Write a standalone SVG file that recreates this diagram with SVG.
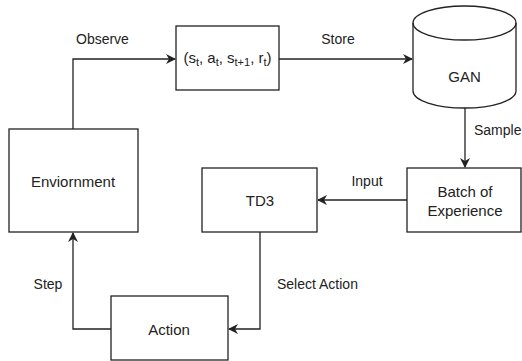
<svg xmlns="http://www.w3.org/2000/svg" width="522" height="361" viewBox="0 0 522 361">
<defs>
<style>
.n{fill:#fff;stroke:#222;stroke-width:1.3}
.e{fill:none;stroke:#222;stroke-width:1.3}
.t{font-family:"Liberation Sans",Arial,sans-serif;font-size:15px;fill:#222;text-anchor:middle}
.l{font-family:"Liberation Sans",Arial,sans-serif;font-size:14px;fill:#222}
</style>
<marker id="a" viewBox="0 0 10 10" refX="9" refY="5" markerWidth="10" markerHeight="10" markerUnits="userSpaceOnUse" orient="auto">
<path d="M0,0 L10,5 L0,10 L3,5 Z" fill="#222"/>
</marker>
</defs>
<rect width="522" height="361" fill="#fff"/>
<g id="connectors">
<path class="e" d="M73,129 V59 H175" marker-end="url(#a)"/>
<path class="e" d="M279,59 H412" marker-end="url(#a)"/>
<path class="e" d="M465,108 V167" marker-end="url(#a)"/>
<path class="e" d="M407,200 H318" marker-end="url(#a)"/>
<path class="e" d="M260,232 V329 H229" marker-end="url(#a)"/>
<path class="e" d="M111,329 H73 V233" marker-end="url(#a)"/>
<text class="l" x="76" y="44">Observe</text>
<text class="l" x="338" y="44" text-anchor="middle">Store</text>
<text class="l" x="474" y="135">Sample</text>
<text class="l" x="367" y="186" text-anchor="middle">Input</text>
<text class="l" x="277" y="289">Select Action</text>
<text class="l" x="48" y="289" text-anchor="middle">Step</text>
</g>
<g id="tuple">
<rect class="n" x="176" y="26" width="103" height="64"/>
<text class="t" x="227.5" y="63">(s<tspan font-size="11" dy="3">t</tspan><tspan dy="-3">, a</tspan><tspan font-size="11" dy="3">t</tspan><tspan dy="-3">, s</tspan><tspan font-size="11" dy="3">t+1</tspan><tspan dy="-3">, r</tspan><tspan font-size="11" dy="3">t</tspan><tspan dy="-3">)</tspan></text>
</g>
<g id="gan">
<path class="n" d="M413,23 A51.5,17 0 0 1 516,23 V91 A51.5,17 0 0 1 413,91 Z"/>
<path class="e" d="M413,23 A51.5,17 0 0 0 516,23"/>
<text class="t" x="464.5" y="82">GAN</text>
</g>
<g id="environment">
<rect class="n" x="9" y="129" width="129" height="103"/>
<text class="t" x="73" y="187">Enviornment</text>
</g>
<g id="td3">
<rect class="n" x="202" y="168" width="115" height="64"/>
<text class="t" x="260" y="206">TD3</text>
</g>
<g id="batch">
<rect class="n" x="407" y="168" width="114" height="64"/>
<text class="t" x="465" y="197">Batch of</text>
<text class="t" x="465" y="216">Experience</text>
</g>
<g id="action">
<rect class="n" x="111" y="296" width="117" height="64"/>
<text class="t" x="169" y="335">Action</text>
</g>
</svg>
